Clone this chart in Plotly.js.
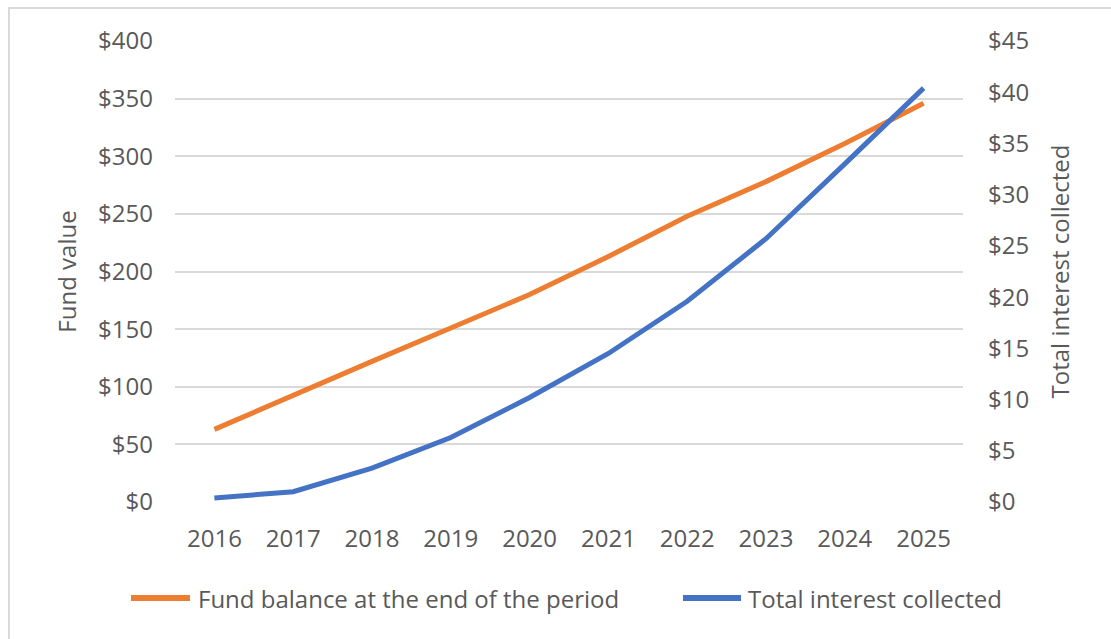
<!DOCTYPE html>
<html>
<head>
<meta charset="utf-8">
<script src="https://cdn.plot.ly/plotly-3.0.1.min.js"></script>
<style>html,body{margin:0;padding:0;background:#fff;}#chart{width:1111px;height:639px;}</style>
</head>
<body>
<div id="chart"></div>
<script>
const years = ["2016","2017","2018","2019","2020","2021","2022","2023","2024","2025"];
const fundBalance = [63, 93, 122, 151, 180, 213, 248, 278, 311, 346];
const totalInterest = [0.4, 1.0, 3.3, 6.3, 10.2, 14.5, 19.6, 25.7, 33.0, 40.4];
const leftTicks = [0, 50, 100, 150, 200, 250, 300, 350, 400];
const rightTicks = [0, 5, 10, 15, 20, 25, 30, 35, 40, 45];
const seriesNames = ["Fund balance at the end of the period", "Total interest collected"];
const colors = ["#ED7D31", "#4472C4"];

const FONT = "Open Sans, Liberation Sans, sans-serif";
const TXT = "#595959";
const L = 175, R = 963, T = 41, B = 502, W = 1111, H = 639;
const px = x => (x - L) / (R - L);
const py = y => (B - y) / (B - T);

const traces = [
  {x: years, y: fundBalance, name: seriesNames[0], type: "scatter", mode: "lines",
   line: {color: colors[0], width: 5}, yaxis: "y", showlegend: false, hoverinfo: "x+y"},
  {x: years, y: totalInterest, name: seriesNames[1], type: "scatter", mode: "lines",
   line: {color: colors[1], width: 5}, yaxis: "y2", showlegend: false, hoverinfo: "x+y"}
];

const layout = {
  width: W, height: H,
  margin: {l: L, r: W - R, t: T, b: H - B, pad: 0},
  paper_bgcolor: "#fff", plot_bgcolor: "#fff",
  font: {family: FONT, size: 24, color: TXT},
  showlegend: false,
  xaxis: {type: "category", range: [-0.5, 9.5], showgrid: false, zeroline: false,
          showline: false, ticks: "", ticklabelstandoff: 20,
          tickfont: {family: FONT, size: 24, color: TXT}, fixedrange: true},
  yaxis: {range: [0, 400], tickvals: leftTicks, ticktext: leftTicks.map(v => "$" + v),
          showgrid: true, gridcolor: "#d9d9d9", gridwidth: 2, zeroline: false,
          showline: false, ticks: "", ticklabelstandoff: 21,
          tickfont: {family: FONT, size: 24, color: TXT},
          title: {text: "Fund value", standoff: 14, font: {family: FONT, size: 24, color: TXT}},
          fixedrange: true},
  yaxis2: {range: [0, 45], tickvals: rightTicks, ticktext: rightTicks.map(v => "$" + v),
           overlaying: "y", side: "right", showgrid: false, zeroline: false,
           showline: false, ticks: "", ticklabelstandoff: 24,
           tickfont: {family: FONT, size: 24, color: TXT},
           title: {text: "Total interest collected", standoff: 24, font: {family: FONT, size: 24, color: TXT}},
           fixedrange: true},
  shapes: [
    {type: "rect", xref: "paper", yref: "paper", x0: px(9), x1: px(1118), y0: py(646), y1: py(8),
     line: {color: "#d9d9d9", width: 2}, fillcolor: "rgba(0,0,0,0)", layer: "below"},
    {type: "line", xref: "paper", yref: "paper", x0: px(131), x1: px(190), y0: py(598), y1: py(598),
     line: {color: colors[0], width: 6}},
    {type: "line", xref: "paper", yref: "paper", x0: px(683), x1: px(741), y0: py(598), y1: py(598),
     line: {color: colors[1], width: 6}}
  ],
  annotations: [
    {xref: "paper", yref: "paper", x: px(196), y: py(598), xanchor: "left", yanchor: "middle",
     text: seriesNames[0], showarrow: false, font: {family: FONT, size: 24, color: TXT}},
    {xref: "paper", yref: "paper", x: px(746), y: py(598), xanchor: "left", yanchor: "middle",
     text: seriesNames[1], showarrow: false, font: {family: FONT, size: 24, color: TXT}}
  ]
};

Plotly.newPlot("chart", traces, layout, {displayModeBar: false, staticPlot: true});
</script>
</body>
</html>
